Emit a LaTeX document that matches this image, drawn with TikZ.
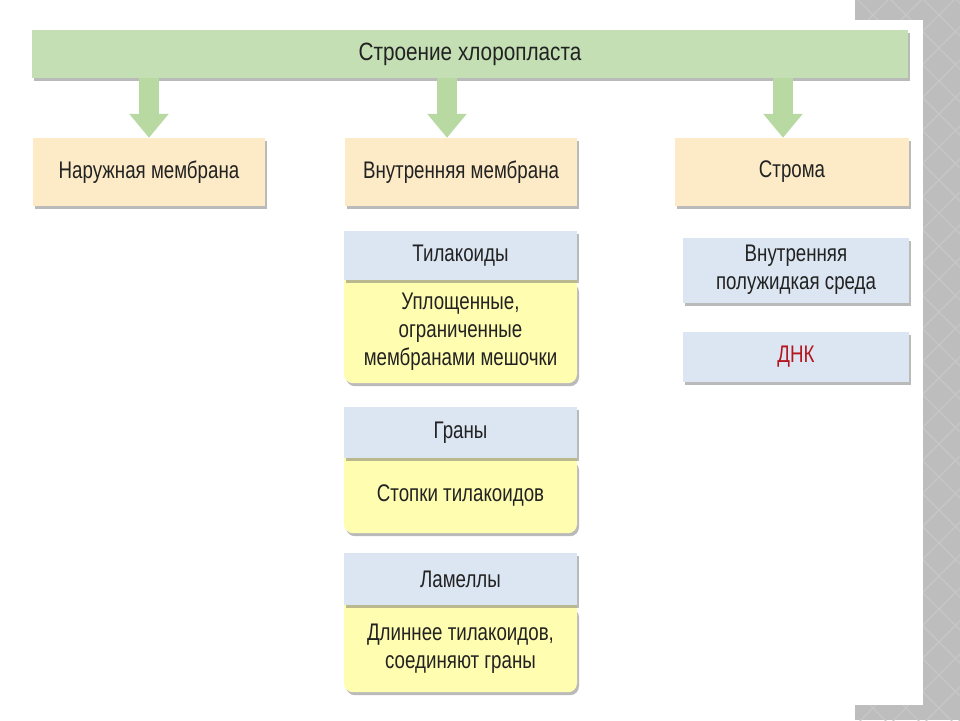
\documentclass[tikz,border=0pt]{standalone}
\usepackage{fontspec}
\setmainfont{Liberation Sans}[FakeStretch=0.78]
\newfontfamily\titlefont{Liberation Sans}[FakeStretch=0.83]
\usetikzlibrary{arrows.meta,shadows}

\definecolor{barGreen}{HTML}{C4DFB3}
\definecolor{arrowGreen}{HTML}{B9D9A3}
\definecolor{boxCream}{HTML}{FCEBC6}
\definecolor{headBlue}{HTML}{DCE6F2}
\definecolor{bodyYellow}{HTML}{FFFDB0}
\definecolor{slideGray}{HTML}{BDBDBD}
\definecolor{diamondGray}{HTML}{C7C7C7}
\definecolor{dnaRed}{HTML}{B4161E}
\definecolor{inkGray}{HTML}{222222}

\tikzset{
	box/.style={draw=none, text=inkGray, align=center, inner sep=0pt,
		drop shadow={shadow xshift=2pt, shadow yshift=-3pt, fill=black!60, opacity=0.45},
		font=\fontsize{24}{28}\selectfont},
	titlebar/.style={box, fill=barGreen, minimum width=876pt, minimum height=48pt,
		font=\titlefont\fontsize{25}{28}\selectfont},
	partbox/.style={box, fill=boxCream, minimum height=68pt},
	headbox/.style={box, fill=headBlue, minimum width=233pt, minimum height=49pt},
	bodybox/.style={box, fill=bodyYellow, minimum width=233pt, rounded corners=9pt},
	infobox/.style={box, fill=headBlue, minimum width=226pt},
	blockarrow/.style={draw=arrowGreen, line width=20pt, -{Triangle[width=38pt,length=24pt]}}
}

\begin{document}
\begin{tikzpicture}[x=1pt, y=-1pt]
		%%%%% START %%%%%
		
		\useasboundingbox (0, 0) rectangle (960, 720);
		\fill[white] (0, 0) rectangle (960, 720);
		
		% slide frame
		\fill[slideGray] (855, 0) rectangle (960, 720);
		\begin{scope}
			\clip (855, 0) rectangle (960, 720);
			\foreach \k in {-150, -117, ..., 870} {
				\draw[diamondGray, line width=1.2pt] (840, \k) -- ++(150, 150);
				\draw[diamondGray, line width=1.2pt] (840, \k) -- ++(150, -150);
			}
		\end{scope}
		\fill[white] (0, 20) rectangle (923, 705);
		
		% title bar
		\node[titlebar] (title) at (470, 54) {Строение хлоропласта};
		
		% parts
		\node[partbox, minimum width=232pt] (outer) at (149, 172) {Наружная мембрана};
		\node[partbox, minimum width=232pt] (inner) at (461, 172) {Внутренняя мембрана};
		\node[partbox, minimum width=234pt] (stroma) at (792, 172) {Строма};
		
		\draw[blockarrow] (outer.north |- title.south) -- (outer.north);
		\draw[blockarrow] ([xshift=-14pt]inner.north |- title.south) -- ([xshift=-14pt]inner.north);
		\draw[blockarrow] ([xshift=-9pt]stroma.north |- title.south) -- ([xshift=-9pt]stroma.north);
		
		% inner membrane
		\node[bodybox, minimum height=103pt, anchor=north] (thylBody) at (460.5, 280) {Уплощенные,\\ограниченные\\мембранами мешочки};
		\fill[bodyYellow] (thylBody.north west) rectangle ([yshift=-12pt]thylBody.north east);
		\node[headbox] (thyl) at (460.5, 255.5) {Тилакоиды};
		
		\node[bodybox, minimum height=75pt, anchor=north] (granaBody) at (460.5, 458) {Стопки тилакоидов};
		\fill[bodyYellow] (granaBody.north west) rectangle ([yshift=-12pt]granaBody.north east);
		\node[headbox, minimum height=51pt] (grana) at (460.5, 432.5) {Граны};
		
		\node[bodybox, minimum height=87pt, anchor=north] (lamBody) at (460.5, 605) {Длиннее тилакоидов,\\соединяют граны};
		\fill[bodyYellow] (lamBody.north west) rectangle ([yshift=-12pt]lamBody.north east);
		\node[headbox, minimum height=52pt] (lam) at (460.5, 579) {Ламеллы};
		
		% stroma
		\node[infobox, minimum height=65pt] (medium) at (796, 270) {Внутренняя\\полужидкая среда};
		\node[infobox, minimum height=50pt, text=dnaRed] (dna) at (796, 357) {ДНК};
		
		%%%%% END %%%%%
\end{tikzpicture}
\end{document}
